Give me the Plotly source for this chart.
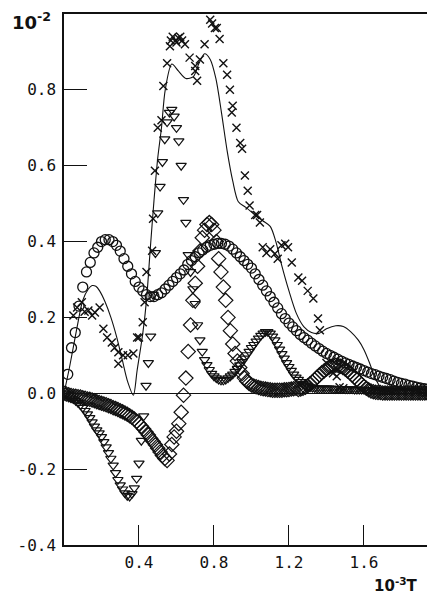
import plotly.graph_objects as go

# ---------------- data ----------------
# time axis in units of 10^-3 T, amplitudes in units of 10^-2
CIRCLE_STEP = 0.02
circle_y = [0.00, 0.05, 0.12, 0.16, 0.23, 0.28, 0.32, 0.345, 0.37, 0.385,
            0.40, 0.405, 0.405, 0.40, 0.39, 0.375, 0.355, 0.335, 0.315, 0.295,
            0.28, 0.27, 0.26, 0.255, 0.255, 0.26, 0.265, 0.275, 0.285, 0.295,
            0.305, 0.315, 0.325, 0.34, 0.35, 0.36, 0.37, 0.378, 0.385, 0.39,
            0.393, 0.395, 0.395, 0.393, 0.388, 0.38, 0.37, 0.36, 0.35, 0.34,
            0.33, 0.315, 0.30, 0.285, 0.27, 0.255, 0.24, 0.225, 0.21, 0.197,
            0.185, 0.175, 0.165, 0.155, 0.147, 0.14, 0.132, 0.125, 0.118, 0.111,
            0.105, 0.10, 0.095, 0.09, 0.085, 0.08, 0.076, 0.072, 0.068, 0.064,
            0.06, 0.056, 0.052, 0.049, 0.045, 0.042, 0.039, 0.036, 0.032, 0.029,
            0.026, 0.024, 0.021, 0.019, 0.016, 0.014, 0.012, 0.011, 0.009, 0.008]

FINE_STEP = 0.0125
triangle_y = [0, -0.003, -0.007, -0.011, -0.015, -0.02, -0.025, -0.031, -0.038, -0.046,
              -0.055, -0.065, -0.076, -0.087, -0.097, -0.105, -0.115, -0.128, -0.142, -0.157,
              -0.172, -0.19, -0.21, -0.228, -0.242, -0.253, -0.263, -0.27, -0.272, -0.265,
              -0.25, -0.225, -0.185, -0.125, -0.06, 0.02, 0.08, 0.15, 0.26, 0.37,
              0.475, 0.545, 0.61, 0.67, 0.715, 0.74, 0.748, 0.73, 0.70, 0.665,
              0.60, 0.51, 0.45, 0.365, 0.32, 0.275, 0.236, 0.18, 0.14, 0.11,
              0.088, 0.075, 0.062, 0.052, 0.045, 0.04, 0.036, 0.034, 0.034, 0.036,
              0.04, 0.045, 0.05, 0.057, 0.065, 0.074, 0.083, 0.092, 0.101, 0.11,
              0.12, 0.128, 0.137, 0.145, 0.152, 0.158, 0.162, 0.162, 0.158, 0.15,
              0.14, 0.128, 0.116, 0.104, 0.092, 0.08, 0.07, 0.06, 0.05, 0.042,
              0.036, 0.03, 0.025, 0.021, 0.018, 0.016, 0.015, 0.014, 0.013, 0.013,
              0.013, 0.013, 0.013, 0.013, 0.013, 0.012, 0.012, 0.012, 0.012, 0.012,
              0.011, 0.011, 0.011, 0.011, 0.01, 0.01, 0.01, 0.01, 0.01, 0.009,
              0.009, 0.009, 0.009, 0.009, 0.008, 0.008, 0.008, 0.008, 0.007, 0.007,
              0.007, 0.007, 0.006, 0.006, 0.006, 0.006, 0.006, 0.005, 0.005, 0.005,
              0.005, 0.005, 0.005, 0.004, 0.004, 0.004, 0.004, 0.004, 0.004]

diamond_y = [0, -0.002, -0.004, -0.006, -0.007, -0.008, -0.009, -0.01, -0.012, -0.013,
             -0.015, -0.016, -0.018, -0.02, -0.022, -0.024, -0.026, -0.028, -0.03, -0.033,
             -0.035, -0.038, -0.04, -0.043, -0.046, -0.049, -0.052, -0.055, -0.059, -0.063,
             -0.068, -0.074, -0.08, -0.087, -0.094, -0.102, -0.11, -0.119, -0.127, -0.136,
             -0.145, -0.155, -0.164, -0.172, -0.177, -0.16, -0.135, -0.115, -0.10, -0.08,
             -0.05, -0.005, 0.04, 0.11, 0.18, 0.245, 0.29, 0.335, 0.375, 0.41,
             0.43, 0.445, 0.45, 0.445, 0.43, 0.40, 0.355, 0.32, 0.28, 0.245,
             0.20, 0.165, 0.13, 0.105, 0.085, 0.068, 0.052, 0.04, 0.032, 0.026,
             0.022, 0.019, 0.017, 0.015, 0.013, 0.012, 0.011, 0.01, 0.009, 0.008,
             0.008, 0.008, 0.008, 0.008, 0.009, 0.009, 0.01, 0.011, 0.012, 0.013,
             0.01, 0.011, 0.013, 0.016, 0.02, 0.025, 0.03, 0.036, 0.042, 0.048,
             0.054, 0.059, 0.064, 0.068, 0.071, 0.073, 0.074, 0.073, 0.071, 0.068,
             0.064, 0.059, 0.054, 0.048, 0.042, 0.036, 0.03, 0.024, 0.018, 0.013,
             0.009, 0.006, 0.004, 0.003, 0.002, 0.002, 0.001, 0.001, 0.001, 0.001,
             0.001, 0.001, 0.001, 0.001, 0.001, 0.001, 0.001, 0.001, 0.001, 0.001,
             0.001, 0.001, 0.001, 0.001, 0.001, 0.001, 0.001, 0.001, 0.001]

cross_x = [0.05, 0.07, 0.095, 0.11, 0.13, 0.15, 0.165, 0.19, 0.21, 0.23,
           0.255, 0.27, 0.29, 0.29, 0.315, 0.34, 0.37, 0.39, 0.40, 0.42,
           0.43, 0.44, 0.47, 0.475, 0.485, 0.50, 0.52, 0.53, 0.55, 0.565,
           0.57, 0.58, 0.595, 0.60, 0.61, 0.62, 0.63, 0.645, 0.67, 0.70,
           0.70, 0.71, 0.725, 0.75, 0.78, 0.79, 0.805, 0.815, 0.83, 0.85,
           0.87, 0.885, 0.895, 0.90, 0.92, 0.94, 0.95, 0.965, 0.98, 0.99,
           1.02, 1.03, 1.045, 1.06, 1.08, 1.10, 1.125, 1.14, 1.16, 1.18,
           1.195, 1.215, 1.25, 1.27, 1.30, 1.33, 1.355, 1.365, 1.40, 1.435,
           1.455, 1.47, 1.49]
cross_y = [0.205, 0.226, 0.24, 0.215, 0.218, 0.205, 0.213, 0.226, 0.17, 0.147,
           0.134, 0.12, 0.108, 0.078, 0.10, 0.10, 0.105, 0.147, 0.147, 0.187,
           0.24, 0.32, 0.376, 0.46, 0.587, 0.70, 0.72, 0.81, 0.87, 0.915,
           0.93, 0.94, 0.93, 0.925, 0.937, 0.94, 0.93, 0.92, 0.885, 0.863,
           0.85, 0.824, 0.88, 0.92, 0.985, 0.975, 0.963, 0.963, 0.934, 0.87,
           0.84, 0.80, 0.74, 0.758, 0.70, 0.66, 0.645, 0.574, 0.534, 0.495,
           0.47, 0.47, 0.45, 0.385, 0.37, 0.38, 0.368, 0.355, 0.39, 0.394,
           0.385, 0.345, 0.305, 0.297, 0.27, 0.25, 0.197, 0.166, 0.08, 0.053,
           0.045, 0.016, 0.013]

line_x = [0, 0.03, 0.07, 0.10, 0.13, 0.15, 0.17, 0.19, 0.22, 0.25,
          0.28, 0.31, 0.34, 0.37, 0.39, 0.42, 0.44, 0.46, 0.48, 0.50,
          0.52, 0.54, 0.575, 0.61, 0.65, 0.69, 0.72, 0.75, 0.78, 0.81,
          0.84, 0.87, 0.90, 0.93, 0.97, 1.02, 1.06, 1.10, 1.13, 1.16,
          1.20, 1.24, 1.28, 1.32, 1.36, 1.40, 1.45, 1.49, 1.53, 1.57,
          1.60, 1.63, 1.66, 1.69, 1.72, 1.80, 1.98]
line_y = [0, 0.07, 0.175, 0.245, 0.275, 0.284, 0.282, 0.27, 0.24, 0.20,
          0.15, 0.09, 0.03, -0.005, 0.06, 0.157, 0.245, 0.38, 0.508, 0.62,
          0.70, 0.80, 0.868, 0.85, 0.83, 0.835, 0.87, 0.895, 0.88, 0.83,
          0.74, 0.64, 0.56, 0.505, 0.49, 0.47, 0.455, 0.44, 0.40, 0.34,
          0.27, 0.21, 0.175, 0.16, 0.158, 0.17, 0.178, 0.176, 0.162, 0.14,
          0.115, 0.08, 0.04, 0.015, 0.005, 0.0, 0.0]

x_tick_vals = [0.4, 0.8, 1.2, 1.6]
x_tick_text = ["0.4", "0.8", "1.2", "1.6"]
y_tick_vals = [0.8, 0.6, 0.4, 0.2, 0.0, -0.2, -0.4]
y_tick_text = ["0.8", "0.6", "0.4", "0.2", "0.0", "-0.2", "-0.4"]

# ---------------- figure ----------------
circle_x = [i * CIRCLE_STEP for i in range(len(circle_y))]
triangle_x = [i * FINE_STEP for i in range(len(triangle_y))]
diamond_x = [i * FINE_STEP for i in range(len(diamond_y))]

BLACK = "#111111"
fig = go.Figure()

fig.add_trace(go.Scatter(x=line_x, y=line_y, mode="lines",
                         line=dict(color=BLACK, width=1.1, shape="spline", smoothing=0.8),
                         showlegend=False))
fig.add_trace(go.Scatter(x=circle_x, y=circle_y, mode="markers",
                         marker=dict(symbol="circle-open", size=10, color=BLACK,
                                     line=dict(width=1.3, color=BLACK)),
                         showlegend=False))
fig.add_trace(go.Scatter(x=triangle_x, y=triangle_y, mode="markers",
                         marker=dict(symbol="triangle-down-open", size=9, color=BLACK,
                                     line=dict(width=1.2, color=BLACK)),
                         showlegend=False))
fig.add_trace(go.Scatter(x=diamond_x, y=diamond_y, mode="markers",
                         marker=dict(symbol="diamond-open", size=11, color=BLACK,
                                     line=dict(width=1.2, color=BLACK)),
                         showlegend=False))
fig.add_trace(go.Scatter(x=cross_x, y=cross_y, mode="markers",
                         marker=dict(symbol="x-thin-open", size=8, color=BLACK,
                                     line=dict(width=1.4, color=BLACK)),
                         showlegend=False))

tick_font = dict(family="DejaVu Sans Mono", size=16, color=BLACK)

fig.update_xaxes(range=[0, 1.979], showgrid=False, zeroline=False, automargin=False,
                 showline=True, linecolor=BLACK, linewidth=1.5, mirror=True,
                 ticks="inside", ticklen=20, tickwidth=1.2, tickcolor=BLACK,
                 tickvals=x_tick_vals, ticktext=x_tick_text, tickfont=tick_font,
                 ticklabelstandoff=2)
fig.update_yaxes(range=[-0.4, 1.0], showgrid=False, automargin=False,
                 zeroline=True, zerolinecolor=BLACK, zerolinewidth=1.2,
                 showline=True, linecolor=BLACK, linewidth=1.5, mirror=False,
                 ticks="inside", ticklen=23, tickwidth=1.2, tickcolor=BLACK,
                 tickvals=y_tick_vals, ticktext=y_tick_text, tickfont=tick_font,
                 ticklabelstandoff=3)

fig.add_annotation(xref="paper", yref="paper", x=-0.087, y=0.986,
                   text="<b>10<sup>-2</sup></b>", showarrow=False,
                   font=dict(family="DejaVu Sans", size=18, color=BLACK),
                   xanchor="center", yanchor="middle")
fig.add_annotation(xref="paper", yref="paper", x=0.895, y=-0.075,
                   text="<b>10<sup>-3</sup>T</b>", showarrow=False,
                   font=dict(family="DejaVu Sans", size=15, color=BLACK),
                   xanchor="center", yanchor="middle")

# the page body adds an 8 px offset, so the figure is 8 px smaller with 8 px less margin
fig.update_layout(width=427, height=587,
                  margin=dict(l=56, r=0, t=6, b=50, autoexpand=False),
                  paper_bgcolor="white", plot_bgcolor="white",
                  showlegend=False)

fig.write_html("out.html")
